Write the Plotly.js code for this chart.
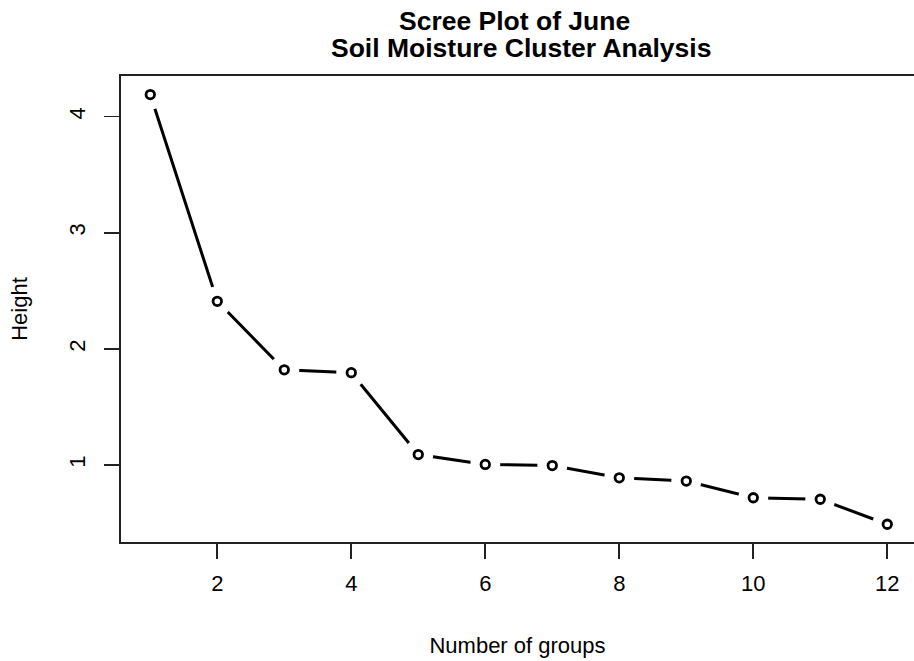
<!DOCTYPE html>
<html>
<head>
<meta charset="utf-8">
<script src="https://cdn.plot.ly/plotly-3.0.1.min.js"></script>
<style>html,body{margin:0;padding:0;background:#fff;}#chart{width:914px;height:661px;}</style>
</head>
<body>
<div id="chart"></div>
<script>
var groups = [1, 2, 3, 4, 5, 6, 7, 8, 9, 10, 11, 12];
var heights = [4.19, 2.41, 1.82, 1.795, 1.09, 1.005, 0.995, 0.89, 0.862, 0.718, 0.705, 0.49];
var xTicks = [2, 4, 6, 8, 10, 12];
var yTicks = [1, 2, 3, 4];
var titleLine1 = "Scree Plot of June";
var titleLine2 = "Soil Moisture Cluster Analysis";
var xLabel = "Number of groups";
var yLabel = "Height";

var fontFam = "Liberation Sans, Arial, sans-serif";

var traces = [
  {x: groups, y: heights, type: "scatter", mode: "lines",
   line: {color: "#000", width: 3}, hoverinfo: "skip", showlegend: false},
  {x: groups, y: heights, type: "scatter", mode: "markers",
   marker: {symbol: "circle", size: 30, color: "#fff", line: {width: 0}},
   hoverinfo: "skip", showlegend: false, cliponaxis: false},
  {x: groups, y: heights, type: "scatter", mode: "markers",
   marker: {symbol: "circle-open", size: 8.5, color: "#000", line: {width: 2.8, color: "#000"}},
   showlegend: false, cliponaxis: false}
];

var layout = {
  width: 914, height: 661,
  margin: {l: 121, r: 0, t: 76, b: 119},
  paper_bgcolor: "#fff", plot_bgcolor: "#fff",
  font: {family: fontFam, color: "#000", size: 22},
  showlegend: false,
  xaxis: {
    range: [0.563, 12.399], tickvals: xTicks, ticktext: xTicks.map(String),
    showgrid: false, zeroline: false,
    showline: true, linecolor: "#222", linewidth: 1.6, mirror: true,
    ticks: "outside", ticklen: 15, tickwidth: 1.6, tickcolor: "#222",
    tickfont: {family: fontFam, size: 22, color: "#000"},
    ticklabelstandoff: 6,
    title: {text: xLabel, font: {family: fontFam, size: 22, color: "#000"}, standoff: 42}
  },
  yaxis: {
    range: [0.337, 4.35], tickvals: yTicks, ticktext: yTicks.map(String),
    showgrid: false, zeroline: false,
    showline: true, linecolor: "#222", linewidth: 1.6, mirror: false,
    ticks: "outside", ticklen: 15, tickwidth: 1.6, tickcolor: "#222",
    tickangle: -90,
    tickfont: {family: fontFam, size: 22, color: "#000"},
    ticklabelstandoff: 11,
    title: {text: yLabel, font: {family: fontFam, size: 22, color: "#000"}, standoff: 31}
  },
  annotations: [
    {text: titleLine1, xref: "x", yref: "paper", x: 6.43, y: 1.118, xanchor: "center", yanchor: "middle",
     showarrow: false, font: {family: fontFam, size: 26.5, color: "#000", weight: "bold"}},
    {text: titleLine2, xref: "x", yref: "paper", x: 6.54, y: 1.060, xanchor: "center", yanchor: "middle",
     showarrow: false, font: {family: fontFam, size: 26.5, color: "#000", weight: "bold"}}
  ]
};

Plotly.newPlot("chart", traces, layout, {displayModeBar: false, staticPlot: true});
</script>
</body>
</html>
